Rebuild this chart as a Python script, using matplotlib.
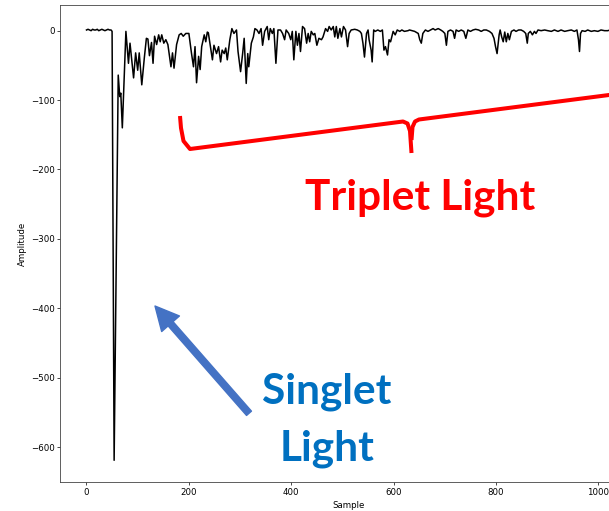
import matplotlib
matplotlib.use("Agg")
import matplotlib.pyplot as plt
from matplotlib.lines import Line2D
from matplotlib.patches import FancyArrowPatch
from matplotlib.transforms import Affine2D

# ---- data ----
samples = [0, 3, 6, 9, 12, 15, 18, 21, 24, 27, 30, 33, 36, 39, 42, 45, 48, 50,
           54, 62, 65, 67, 70, 77, 82, 85, 92, 96, 100, 103, 108, 113, 117, 120,
           123, 127, 130, 133, 137, 141, 144, 147, 151, 155, 159, 165, 168, 171,
           176, 181, 185, 189, 194, 200, 205, 209, 212, 215, 219, 222, 225, 230,
           233, 236, 238, 241, 246, 249, 254, 258, 262, 265, 269, 272, 275, 280,
           284, 288, 293, 296, 301, 305, 308, 312, 315, 317, 322, 326, 329, 333,
           337, 341, 344, 348, 353, 356, 359, 363, 366, 370, 374, 379, 383, 387,
           390, 395, 399, 402, 405, 409, 412, 415, 418, 422, 426, 430, 433, 436,
           439, 443, 446, 450, 454, 459, 462, 467, 471, 474, 478, 482, 485, 488,
           491, 495, 498, 502, 506, 510, 513, 517, 524, 529, 534, 537, 540, 543,
           547, 550, 552, 556, 558, 561, 564, 569, 574, 578, 581, 584, 588, 591,
           594, 599, 603, 607, 612, 616, 621, 628, 631, 641, 648, 651, 654, 657,
           662, 667, 672, 677, 681, 687, 692, 696, 700, 703, 706, 711, 716, 719,
           722, 727, 732, 737, 741, 745, 750, 755, 760, 766, 771, 776, 781, 787,
           792, 796, 799, 802, 806, 808, 811, 814, 817, 820, 823, 826, 830, 835,
           839, 844, 849, 854, 858, 861, 863, 867, 871, 875, 878, 882, 888, 895,
           901, 908, 914, 921, 927, 934, 940, 947, 953, 958, 961, 963, 965, 968,
           974, 979, 986, 992, 999, 1005, 1012, 1018, 1023]
amplitude = [1, 2, 1, 0, 2, 1, 1, 2, 0, 1, 2, 1, 0, 1, 2, 1, 1, -1,
             -619, -64, -95, -90, -140, -1, -47, -18, -68, -32, -57, -32, -78, -39, -11, -12,
             -36, -17, -47, -8, -20, -6, -16, -6, -18, -13, -20, -52, -32, -54,
             -20, -6, -4, -8, -4, -4, -32, -52, -23, -75, -37, -56, -23, -6,
             -16, -2, -3, -18, -42, -21, -33, -23, -45, -28, -33, -25, -42, -13,
             3, -4, 1, -30, -59, -33, -11, -76, -33, -52, -18, -9, 3, 1,
             -4, 3, -21, -1, 6, -13, 3, -4, 3, -47, 1, 1, -4, -13,
             1, -4, -13, -1, -42, -1, -21, -4, -30, 6, 3, -18, -4, -16,
             -1, -6, -4, -21, -11, -13, -9, 3, -1, 6, 1, 6, -9, 6,
             -11, 3, -9, 6, 1, -23, -4, 1, 2, 1, -1, -4, -18, -38,
             -4, 1, -13, -28, -45, 1, -1, 1, -1, 1, -28, -23, -35, -13,
             -16, -1, -6, 1, -1, 1, -1, 0, 1, -1, -4, -13, -18, -4,
             1, -1, 1, 3, 1, 3, 1, -1, -4, -21, -1, 1, -1, -11,
             1, -1, 1, -1, -11, 1, -1, 1, 2, 1, -1, 1, 1, -1,
             -4, -11, -23, -33, -6, 1, -9, -16, -2, -16, -4, -13, -1, 1,
             -1, 1, 1, -1, -4, -18, -4, -1, -6, -1, -4, 1, 0, 1,
             0, -1, 1, -1, 1, -1, 0, 1, -1, 1, -13, -30, -4, 0,
             -1, 1, -1, 0, -1, 1, 0, 0, 1]
x_ticks = [0, 200, 400, 600, 800, 1000]
y_ticks = [0, -100, -200, -300, -400, -500, -600]
triplet_label = "Triplet Light"
singlet_label = "Singlet\nLight"

W, H = 609, 511
fig = plt.figure(figsize=(W / 100, H / 100), dpi=100)
ax = fig.add_axes([60.3 / W, 1 - 482.3 / H, (636.4 - 60.3) / W, (482.3 - 5) / H])
ax.plot(samples, amplitude, color="black", lw=1.1)
ax.set_xlim(-51.15, 1074.15)
ax.set_ylim(-650.7, 37)
ax.set_xticks(x_ticks)
ax.set_yticks(y_ticks)
ax.tick_params(labelsize=6.2, length=2.2, width=0.5, pad=2)
ax.set_xlabel("Sample", fontsize=6.2, labelpad=2.5)
ax.set_ylabel("Amplitude", fontsize=6.2, labelpad=3)
for s in ax.spines.values():
    s.set_linewidth(0.6)
    s.set_color("#444444")

# pixel coordinates of the figure (origin top-left)
pix = Affine2D().scale(1 / W, -1 / H).translate(0, 1) + fig.transFigure

# red brace
left_x = [180, 181, 183.5, 190, 403, 407.5, 410, 411.5]
left_y = [116, 128, 141, 149, 121.5, 123.5, 131, 153]
right_x = [411.5, 412.5, 415, 419, 640]
right_y = [140, 127, 121.5, 119.5, 91]
fig.add_artist(Line2D(left_x, left_y, transform=pix, color="#FF0000", lw=2.9,
                      solid_joinstyle="round", solid_capstyle="butt"))
fig.add_artist(Line2D(right_x, right_y, transform=pix, color="#FF0000", lw=2.9,
                      solid_joinstyle="round", solid_capstyle="butt"))

# blue arrow
arrow = FancyArrowPatch(posA=(249, 413.3), posB=(155, 306), transform=pix,
                        arrowstyle="simple,head_width=17,head_length=17,tail_width=4.7",
                        mutation_scale=1, color="#4472C4", shrinkA=0, shrinkB=0)
fig.add_artist(arrow)

fig.text(420 / W, 1 - 209.3 / H, triplet_label, color="#FF0000", fontsize=30.5,
         fontweight="bold", family="Lato", ha="center", va="baseline")
lines = singlet_label.split("\n")
fig.text(326.3 / W, 1 - 403.3 / H, lines[0], color="#0070C0", fontsize=30.5,
         fontweight="bold", family="Lato", ha="center", va="baseline")
fig.text(327 / W, 1 - 460 / H, lines[1], color="#0070C0", fontsize=30.5,
         fontweight="bold", family="Lato", ha="center", va="baseline")

fig.savefig("out.png", dpi=100)
